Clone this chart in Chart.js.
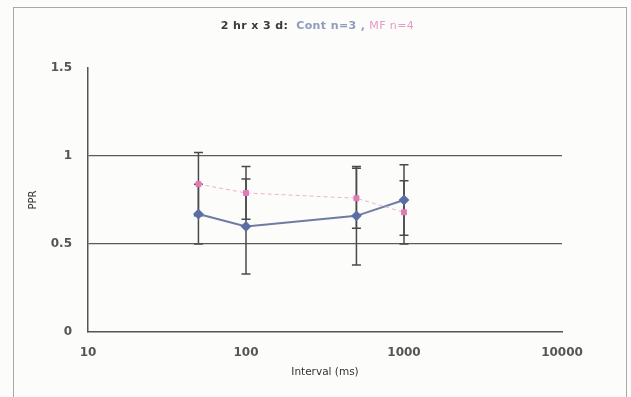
<!DOCTYPE html>
<html>
<head>
<meta charset="utf-8">
<script src="https://cdn.jsdelivr.net/npm/chart.js@4/dist/chart.umd.min.js"></script>
<style>
  html, body { margin:0; padding:0; background:#fcfcfb; }
  #wrap { position:relative; width:631px; height:397px; overflow:hidden; }
  #frame { position:absolute; left:13px; top:7px; width:614px; height:390px; border:1px solid #a8a8a8; border-bottom:none; box-sizing:border-box; pointer-events:none; }
  #title { position:absolute; left:0; width:631px; top:19px; text-align:center; font-family:"DejaVu Sans", sans-serif; font-size:11px; letter-spacing:0.4px; padding-left:4px; box-sizing:border-box; white-space:pre; }
  #title .a { color:#3a3a3a; font-weight:bold; }
  #title .b { color:#8f9bb8; font-weight:bold; }
  #title .c { color:#e79ac3; }
  canvas { position:absolute; left:0; top:0; }
</style>
</head>
<body>
<div id="wrap">
  <canvas id="c" width="631" height="397"></canvas>
  <div id="frame"></div>
  <div id="title"><span class="a">2 hr x 3 d:</span>  <span class="b">Cont n=3 ,</span> <span class="c">MF n=4</span></div>
</div>
<script>
const intervals = [50, 100, 500, 1000];
const contMean = [0.67, 0.60, 0.66, 0.75];
const contErr  = [0.17, 0.27, 0.28, 0.20];
const mfMean   = [0.84, 0.79, 0.76, 0.68];
const mfErr    = [0.18, 0.15, 0.17, 0.18];
const xTickValues = [10, 100, 1000, 10000];
const yTickValues = [0, 0.5, 1, 1.5];

const toPts = (ys) => intervals.map((x, i) => ({x: x, y: ys[i]}));

const errorBars = {
  id: 'errorBars',
  beforeDatasetsDraw(chart) {
    const ctx = chart.ctx;
    const xs = chart.scales.x, ys = chart.scales.y;
    const sets = [[contMean, contErr], [mfMean, mfErr]];
    ctx.save();
    ctx.strokeStyle = '#4a4a4a';
    ctx.lineWidth = 1.5;
    sets.forEach(([m, e]) => {
      intervals.forEach((iv, i) => {
        const px = xs.getPixelForValue(iv);
        const top = ys.getPixelForValue(m[i] + e[i]);
        const bot = ys.getPixelForValue(m[i] - e[i]);
        ctx.beginPath();
        ctx.moveTo(px, top); ctx.lineTo(px, bot);
        ctx.moveTo(px - 4.5, top); ctx.lineTo(px + 4.5, top);
        ctx.moveTo(px - 4.5, bot); ctx.lineTo(px + 4.5, bot);
        ctx.stroke();
      });
    });
    ctx.restore();
  }
};

new Chart(document.getElementById('c'), {
  type: 'line',
  data: {
    datasets: [
      {
        label: 'MF',
        data: toPts(mfMean),
        borderColor: '#eab2cf',
        borderWidth: 1,
        borderDash: [4, 3],
        pointStyle: 'rect',
        pointRadius: 3.5,
        pointBackgroundColor: '#e27ab8',
        pointBorderColor: '#e27ab8',
        tension: 0
      },
      {
        label: 'Cont',
        data: toPts(contMean),
        borderColor: '#6e7ca2',
        borderWidth: 2,
        pointStyle: 'rectRot',
        pointRadius: 4,
        pointBackgroundColor: '#5b6fa6',
        pointBorderColor: '#5b6fa6',
        tension: 0
      }
    ]
  },
  options: {
    responsive: false,
    animation: false,
    devicePixelRatio: 1,
    layout: { padding: { top: 68, right: 69, left: 0, bottom: 0 } },
    plugins: { legend: { display: false }, tooltip: { enabled: false }, title: { display: false } },
    scales: {
      x: {
        type: 'logarithmic',
        min: 10, max: 10000,
        afterFit(s) { s.height = 65; },
        afterBuildTicks(s) { s.ticks = xTickValues.map(v => ({value: v})); },
        grid: { display: true, drawOnChartArea: false, drawTicks: false },
        border: { display: true, color: '#555', width: 1.5 },
        ticks: {
          padding: 14,
          color: '#555',
          font: { family: 'DejaVu Sans', size: 12, weight: 'bold' },
          callback: (v) => String(v),
          autoSkip: false, maxRotation: 0
        },
        title: {
          display: true, text: 'Interval (ms)',
          color: '#333',
          font: { family: 'DejaVu Sans', size: 10.5 },
          padding: { top: 0, bottom: 18 }
        }
      },
      y: {
        min: 0, max: 1.5,
        afterFit(s) { s.width = 88; },
        afterBuildTicks(s) { s.ticks = yTickValues.map(v => ({value: v})); },
        grid: {
          drawTicks: false,
          color: (c) => (c.tick && (c.tick.value === 0.5 || c.tick.value === 1)) ? '#5a5a5a' : 'rgba(0,0,0,0)',
          lineWidth: 1.3
        },
        border: { display: true, color: '#555', width: 1.5 },
        ticks: {
          padding: 16,
          color: '#555',
          font: { family: 'DejaVu Sans', size: 12, weight: 'bold' },
          callback: (v) => String(v)
        },
        title: {
          display: true, text: 'PPR',
          color: '#333',
          font: { family: 'DejaVu Sans', size: 10 },
          padding: { top: 27, bottom: 0 }
        }
      }
    }
  },
  plugins: [errorBars]
});
</script>
</body>
</html>
